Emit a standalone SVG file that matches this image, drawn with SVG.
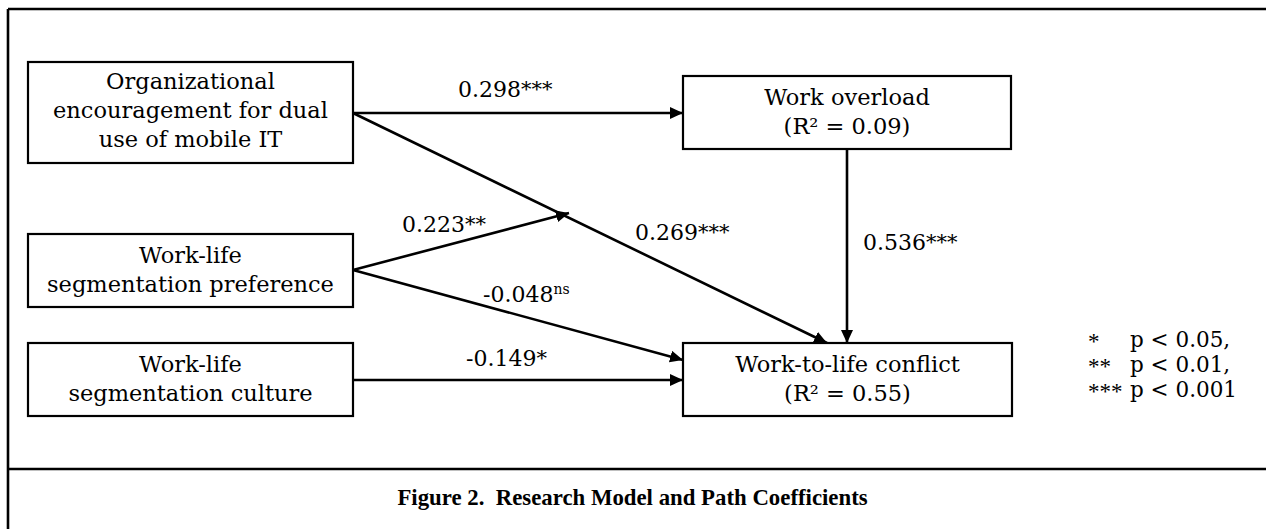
<svg xmlns="http://www.w3.org/2000/svg" width="1266" height="529" viewBox="0 0 1266 529">
<style>
.box{fill:#fff;stroke:#000;stroke-width:2.2}
.t{font-family:"DejaVu Serif","Liberation Serif",serif;font-size:22.5px;fill:#000;text-anchor:middle}
.lab{font-family:"DejaVu Serif","Liberation Serif",serif;font-size:22px;fill:#000}
.sup{font-size:21px}
.ns{font-size:14px}
.leg{font-family:"DejaVu Serif","Liberation Serif",serif;font-size:21.5px;fill:#000}
.ast{font-family:"Liberation Serif",serif;font-size:23px;fill:#000}
.cap{font-family:"Liberation Serif",serif;font-weight:bold;font-size:22.8px;fill:#000;text-anchor:middle}
.edge{stroke:#000;stroke-width:2.6;fill:none}
.frame{stroke:#000;stroke-width:2.6;fill:none}
</style>
<defs>
<marker id="ah" markerUnits="userSpaceOnUse" markerWidth="14" markerHeight="12" refX="13" refY="6" orient="auto">
<path d="M0,0 L13,6 L0,12 Z" fill="#000"/>
</marker>
</defs>
<rect width="1266" height="529" fill="#fff"/>
<g id="frame">
<line class="frame" x1="8" y1="9" x2="1266" y2="9"/>
<line class="frame" x1="8" y1="9" x2="8" y2="529"/>
<line class="frame" x1="8" y1="469" x2="1266" y2="469"/>
</g>
<g id="connectors">
<line class="edge" x1="353" y1="113" x2="683" y2="113" marker-end="url(#ah)"/>
<line class="edge" x1="353" y1="113" x2="827" y2="343" marker-end="url(#ah)"/>
<line class="edge" x1="353" y1="270" x2="569" y2="213" marker-end="url(#ah)"/>
<line class="edge" x1="353" y1="270" x2="683" y2="360" marker-end="url(#ah)"/>
<line class="edge" x1="353" y1="380" x2="683" y2="380" marker-end="url(#ah)"/>
<line class="edge" x1="847" y1="149" x2="847" y2="343" marker-end="url(#ah)"/>
</g>
<g id="node-encouragement">
<rect class="box" x="28" y="62" width="325" height="101"/>
<text class="t" x="190.5" y="89">Organizational</text>
<text class="t" x="190.5" y="118">encouragement for dual</text>
<text class="t" x="190.5" y="147">use of mobile IT</text>
</g>
<g id="node-preference">
<rect class="box" x="28" y="234" width="325" height="73"/>
<text class="t" x="190.5" y="263">Work-life</text>
<text class="t" x="190.5" y="292">segmentation preference</text>
</g>
<g id="node-culture">
<rect class="box" x="28" y="343" width="325" height="73"/>
<text class="t" x="190.5" y="372">Work-life</text>
<text class="t" x="190.5" y="401">segmentation culture</text>
</g>
<g id="node-overload">
<rect class="box" x="683" y="76" width="328" height="73"/>
<text class="t" x="847" y="105">Work overload</text>
<text class="t" x="847" y="134">(R² = 0.09)</text>
</g>
<g id="node-conflict">
<rect class="box" x="683" y="343" width="329" height="73"/>
<text class="t" x="847.5" y="372">Work-to-life conflict</text>
<text class="t" x="847.5" y="401">(R² = 0.55)</text>
</g>
<g id="labels">
<text class="lab" x="458" y="97">0.298<tspan class="sup" dy="-1">***</tspan></text>
<text class="lab" x="402" y="232">0.223<tspan class="sup" dy="-1">**</tspan></text>
<text class="lab" x="635" y="240">0.269<tspan class="sup" dy="-1">***</tspan></text>
<text class="lab" x="483" y="302">-0.048<tspan class="ns" dy="-8">ns</tspan></text>
<text class="lab" x="466" y="366">-0.149<tspan class="sup" dy="-1">*</tspan></text>
<text class="lab" x="863" y="250">0.536<tspan class="sup" dy="-1">***</tspan></text>
</g>
<g id="legend">
<text class="ast" x="1088" y="349">*</text>
<text class="ast" x="1088" y="374">**</text>
<text class="ast" x="1088" y="399">***</text>
<text class="leg" x="1130" y="347">p &lt; 0.05,</text>
<text class="leg" x="1130" y="372">p &lt; 0.01,</text>
<text class="leg" x="1130" y="397">p &lt; 0.001</text>
</g>
<text class="cap" x="632.5" y="505" xml:space="preserve">Figure 2.  Research Model and Path Coefficients</text>
</svg>
